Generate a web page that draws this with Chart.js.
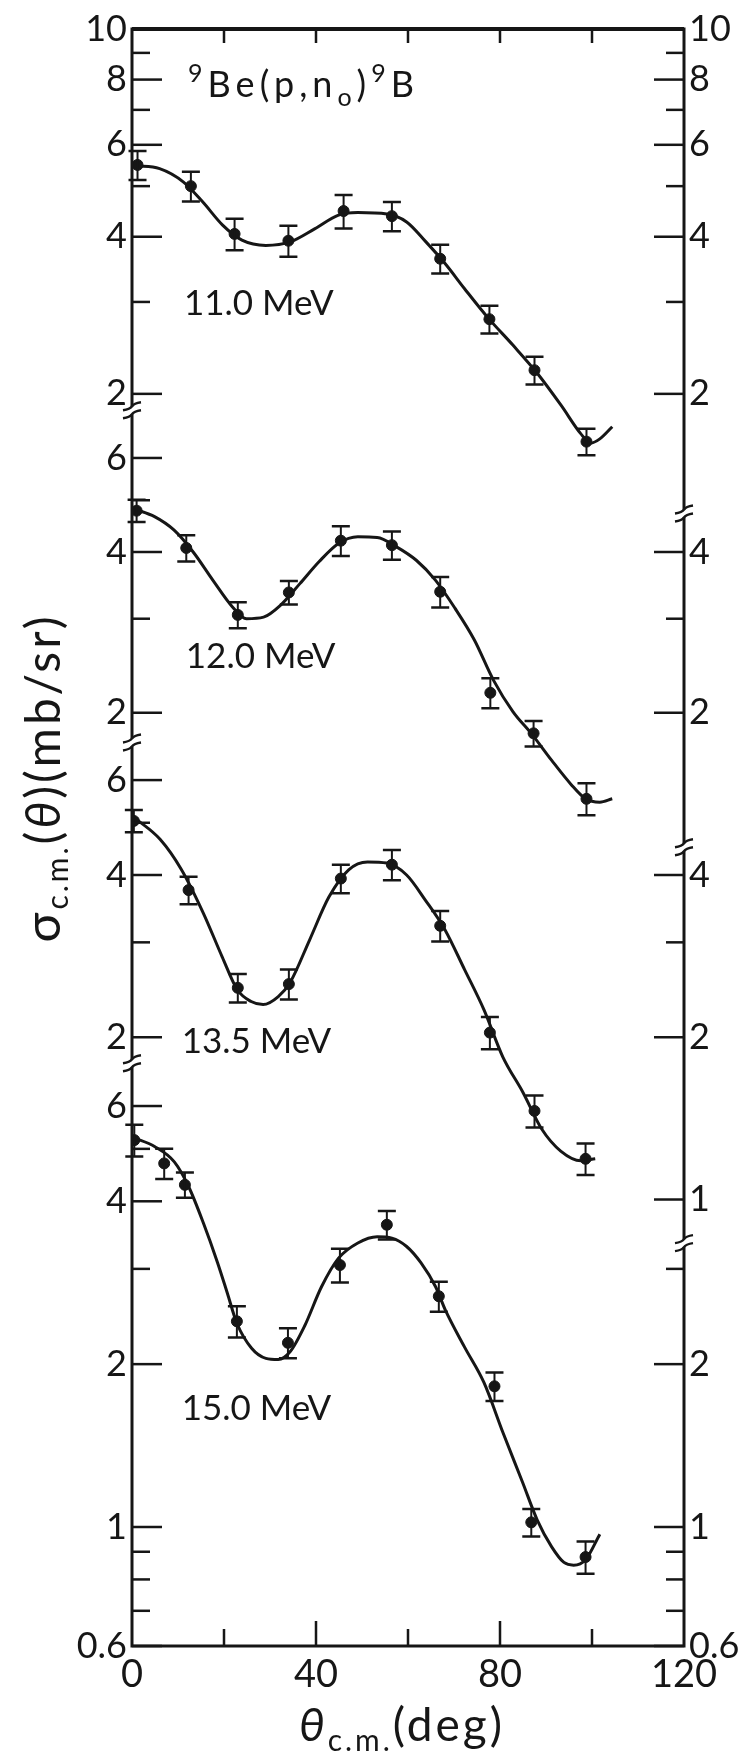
<!DOCTYPE html>
<html>
<head>
<meta charset="utf-8">
<script src="https://cdn.jsdelivr.net/npm/chart.js@4.4.1/dist/chart.umd.min.js"></script>
<style>
  html, body { margin: 0; padding: 0; background: #fff; }
  canvas { display: block; }
</style>
</head>
<body>
<canvas id="xsec" width="754" height="1756"></canvas>
<script>
// 9Be(p,n0)9B angular distributions, one log panel per proton energy

const energies = ['11.0 MeV', '12.0 MeV', '13.5 MeV', '15.0 MeV'];

// measured points: c.m. angle (deg), sigma (mb/sr), error (mb/sr)
const angle11 = [1.2, 12.8, 22.3, 34.0, 46.0, 56.5, 67.0, 77.7, 87.5, 98.8];
const sigma11 = [5.49, 5.00, 4.05, 3.93, 4.48, 4.38, 3.63, 2.78, 2.22, 1.62];
const err11   = [0.35, 0.33, 0.28, 0.27, 0.33, 0.28, 0.23, 0.17, 0.135, 0.095];

const angle12 = [1.0, 11.8, 23.0, 34.1, 45.4, 56.5, 67.0, 77.9, 87.3, 98.8];
const sigma12 = [4.78, 4.07, 3.05, 3.36, 4.20, 4.12, 3.37, 2.18, 1.83, 1.38];
const err12   = [0.23, 0.23, 0.17, 0.17, 0.27, 0.25, 0.22, 0.14, 0.10, 0.095];

const angle135 = [0.4, 12.3, 23.0, 34.1, 45.4, 56.5, 67.0, 77.8, 87.5, 98.6];
const sigma135 = [5.04, 3.75, 2.47, 2.51, 3.94, 4.18, 3.22, 2.04, 1.46, 1.19];
const err135   = [0.24, 0.22, 0.15, 0.16, 0.24, 0.27, 0.21, 0.14, 0.10, 0.08];

const angle15 = [0.5, 7.0, 11.5, 22.8, 33.9, 45.2, 55.4, 66.7, 78.8, 86.8, 98.6];
const sigma15 = [5.19, 4.70, 4.29, 2.40, 2.19, 3.05, 3.62, 2.67, 1.82, 1.02, 0.88];
const err15   = [0.35, 0.30, 0.23, 0.16, 0.14, 0.22, 0.22, 0.17, 0.11, 0.06, 0.06];

// fitted curves
const fitAngle11 = [0.7, 6.0, 11.2, 15.4, 19.7, 23.9, 29.1, 34.4, 39.7, 44.9, 49.1, 55.4, 59.7, 63.9, 68.1, 72.3, 77.5, 82.8, 88.1, 93.3, 97.5, 99.7, 101.7, 104.4];
const fitSigma11 = [5.47, 5.40, 5.09, 4.66, 4.21, 3.94, 3.85, 3.91, 4.14, 4.40, 4.45, 4.42, 4.27, 3.91, 3.55, 3.18, 2.79, 2.48, 2.19, 1.90, 1.68, 1.61, 1.64, 1.73];

const fitAngle12 = [0.7, 4.9, 9.1, 13.3, 17.6, 21.8, 24.9, 28.6, 32.3, 36.5, 40.7, 44.9, 49.1, 53.3, 57.5, 61.8, 66.0, 70.2, 74.4, 78.6, 82.8, 87.0, 91.2, 95.4, 98.6, 101.7, 104.4];
const fitSigma12 = [4.81, 4.66, 4.40, 4.00, 3.54, 3.16, 3.00, 3.02, 3.18, 3.49, 3.84, 4.15, 4.27, 4.26, 4.09, 3.86, 3.54, 3.14, 2.74, 2.30, 2.01, 1.82, 1.63, 1.47, 1.38, 1.36, 1.38];

const fitAngle135 = [0.65, 6.1, 10.7, 15.5, 19.6, 22.9, 25.9, 28.5, 31.8, 34.4, 38.6, 42.8, 47.1, 51.2, 55.4, 59.7, 63.8, 68.0, 72.3, 76.5, 80.6, 85.0, 89.1, 93.2, 97.6, 100.7];
const fitSigma135 = [5.10, 4.66, 4.10, 3.40, 2.82, 2.45, 2.33, 2.30, 2.38, 2.53, 3.03, 3.64, 4.09, 4.23, 4.21, 4.00, 3.59, 3.17, 2.67, 2.25, 1.84, 1.58, 1.35, 1.23, 1.18, 1.19];

const fitAngle15 = [0.4, 4.9, 9.2, 12.3, 15.5, 18.6, 20.7, 22.8, 26.0, 29.1, 31.8, 34.4, 37.5, 41.2, 44.9, 49.1, 53.3, 56.5, 59.7, 62.8, 66.0, 68.1, 72.3, 76.5, 80.7, 84.9, 88.1, 91.2, 93.9, 96.0, 98.6, 101.7];
const fitSigma15 = [5.24, 5.05, 4.73, 4.26, 3.65, 3.08, 2.71, 2.38, 2.14, 2.05, 2.04, 2.11, 2.35, 2.78, 3.14, 3.35, 3.44, 3.42, 3.30, 3.08, 2.78, 2.52, 2.15, 1.85, 1.49, 1.21, 1.03, 0.92, 0.86, 0.85, 0.87, 0.97];

// axis ticks per panel (left side / right side) and which of them carry a number
const xTicks = [20, 40, 60, 80, 100];
const xLabels = [0, 40, 80, 120];
const leftTicks = [[10, 9, 8, 7, 6, 5, 4, 3, 2], [6, 5, 4, 3, 2], [6, 5, 4, 3, 2], [6, 5, 4, 3, 2, 1, 0.9, 0.8, 0.7, 0.6]];
const leftLabels = [[10, 8, 6, 4, 2], [6, 4, 2], [6, 4, 2], [6, 4, 2, 1, 0.6]];
const rightTicks = [[10, 9, 8, 7, 6, 5, 4, 3, 2], [4, 3, 2], [4, 3, 2, 1], [3, 2, 1, 0.9, 0.8, 0.7, 0.6]];
const rightLabels = [[10, 8, 6, 4, 2], [4, 2], [4, 2, 1], [2, 1, 0.6]];
// axis breaks, given as the lowest value shown on the panel above
const leftBreaks = [1.86, 1.76, 1.79];
const rightBreaks = [1.18, 1.12, 0.83];

const INK = '#161616';
const FONT = 'Lato, "DejaVu Sans", sans-serif';
const area = { left: 132, right: 684, top: 29, bottom: 1646 };

// every panel has its own log axis over the full plot height,
// pinned by one value, the pixel row it sits on, and pixels per decade
const panelIds = ['p11', 'p12', 'p135', 'p15'];
const panelScale = [
  { value: 10, y: 29, decade: 522 },
  { value: 4, y: 552, decade: 534 },
  { value: 4, y: 875, decade: 539 },
  { value: 1, y: 1527, decade: 541 }
];

function logRange(p) {
  const max = p.value * Math.pow(10, (p.y - area.top) / p.decade);
  const min = max / Math.pow(10, (area.bottom - area.top) / p.decade);
  return { min: min, max: max };
}

function pts(xs, ys) {
  return xs.map((x, i) => ({ x: x, y: ys[i] }));
}

const measured = [[angle11, sigma11, err11], [angle12, sigma12, err12], [angle135, sigma135, err135], [angle15, sigma15, err15]];
const fits = [[fitAngle11, fitSigma11], [fitAngle12, fitSigma12], [fitAngle135, fitSigma135], [fitAngle15, fitSigma15]];

const datasets = [];
panelIds.forEach((id, i) => {
  datasets.push({
    label: energies[i] + ' fit',
    data: pts(fits[i][0], fits[i][1]),
    yAxisID: id,
    showLine: true,
    borderColor: INK,
    borderWidth: 3,
    pointRadius: 0,
    cubicInterpolationMode: 'monotone',
    order: 2
  });
  datasets.push({
    label: energies[i],
    data: pts(measured[i][0], measured[i][1]),
    err: measured[i][2],
    yAxisID: id,
    showLine: false,
    pointRadius: 5.5,
    pointBackgroundColor: INK,
    pointBorderColor: INK,
    order: 1
  });
});

const scales = { x: { type: 'linear', min: 0, max: 120, display: false } };
panelIds.forEach((id, i) => {
  const r = logRange(panelScale[i]);
  scales[id] = { type: 'logarithmic', min: r.min, max: r.max, bounds: 'data', display: false };
});

// vertical error bars with caps
const errorBars = {
  id: 'errorBars',
  afterDatasetsDraw(chart) {
    const ctx = chart.ctx;
    ctx.save();
    ctx.strokeStyle = INK;
    chart.data.datasets.forEach((ds, di) => {
      if (!ds.err) return;
      const meta = chart.getDatasetMeta(di);
      const ys = chart.scales[ds.yAxisID];
      meta.data.forEach((el, j) => {
        const v = ds.data[j].y, e = ds.err[j];
        const top = ys.getPixelForValue(v + e);
        const bot = ys.getPixelForValue(v - e);
        ctx.lineWidth = 2;
        ctx.beginPath();
        ctx.moveTo(el.x, top);
        ctx.lineTo(el.x, bot);
        ctx.stroke();
        ctx.lineWidth = 2.5;
        ctx.beginPath();
        ctx.moveTo(el.x - 9, top);
        ctx.lineTo(el.x + 9, top);
        ctx.moveTo(el.x - 9, bot);
        ctx.lineTo(el.x + 9, bot);
        ctx.stroke();
      });
    });
    ctx.restore();
  }
};

function drawPieces(ctx, x, y, pieces) {
  pieces.forEach(p => {
    ctx.font = p[1];
    ctx.fillText(p[0], x, y + p[2]);
    x += ctx.measureText(p[0]).width;
  });
}

function piecesWidth(ctx, pieces) {
  let w = 0;
  pieces.forEach(p => { ctx.font = p[1]; w += ctx.measureText(p[0]).width; });
  return w;
}

function drawBreak(ctx, x, y) {
  ctx.save();
  ctx.fillStyle = '#fff';
  ctx.fillRect(x - 4, y - 4, 8, 8);
  ctx.lineWidth = 2.5;
  ctx.beginPath();
  [-4, 4].forEach(d => {
    ctx.moveTo(x - 9, y + d + 4);
    ctx.quadraticCurveTo(x - 2, y + d + 3, x, y + d);
    ctx.quadraticCurveTo(x + 2, y + d - 3, x + 9, y + d - 4);
  });
  ctx.stroke();
  ctx.restore();
}

const frame = {
  id: 'frame',
  afterDraw(chart) {
    const ctx = chart.ctx;
    const a = chart.chartArea;
    const xs = chart.scales.x;
    const panels = panelIds.map(id => chart.scales[id]);
    ctx.save();
    ctx.strokeStyle = INK;
    ctx.fillStyle = INK;
    ctx.lineCap = 'butt';

    ctx.lineWidth = 3;
    ctx.strokeRect(a.left, a.top, a.right - a.left, a.bottom - a.top);
    ctx.lineWidth = 4;
    ctx.beginPath();
    ctx.moveTo(a.left, a.top);
    ctx.lineTo(a.right, a.top);
    ctx.stroke();

    // angle ticks on top and bottom
    ctx.lineWidth = 2.5;
    ctx.beginPath();
    xTicks.forEach(v => {
      const px = xs.getPixelForValue(v);
      const len = (v % 40 === 0) ? 25 : 17;
      ctx.moveTo(px, a.bottom);
      ctx.lineTo(px, a.bottom - len);
      ctx.moveTo(px, a.top);
      ctx.lineTo(px, a.top + 14);
    });
    ctx.stroke();

    ctx.font = '38px ' + FONT;
    ctx.textAlign = 'center';
    ctx.textBaseline = 'middle';
    xLabels.forEach(v => {
      ctx.fillText(String(v), xs.getPixelForValue(v), a.bottom + 29);
    });

    // segmented sigma axes on both sides
    const sides = [
      { x: a.left, dir: 1, ticks: leftTicks, labels: leftLabels, breaks: leftBreaks },
      { x: a.right, dir: -1, ticks: rightTicks, labels: rightLabels, breaks: rightBreaks }
    ];
    sides.forEach(side => {
      const cuts = side.breaks.map((v, i) => panels[i].getPixelForValue(v));
      panels.forEach((sc, i) => {
        const segTop = i === 0 ? a.top - 4 : cuts[i - 1] + 6;
        const segBot = i === panels.length - 1 ? a.bottom + 4 : cuts[i] - 6;
        side.ticks[i].forEach(v => {
          const py = Math.min(Math.max(sc.getPixelForValue(v), a.top), a.bottom);
          if (py < segTop || py > segBot) return;
          const major = side.labels[i].indexOf(v) >= 0;
          const len = major ? 30 : 18;
          ctx.lineWidth = 2.5;
          ctx.beginPath();
          ctx.moveTo(side.x, py);
          ctx.lineTo(side.x + side.dir * len, py);
          ctx.stroke();
          if (major) {
            ctx.font = '36px ' + FONT;
            ctx.textBaseline = 'middle';
            ctx.textAlign = side.dir > 0 ? 'right' : 'left';
            ctx.fillText(String(v), side.x - side.dir * 5, py);
          }
        });
      });
      cuts.forEach(py => drawBreak(ctx, side.x, py));
    });

    // reaction and beam energy annotations, placed in data coordinates
    const p1 = panels[0];
    ctx.textAlign = 'left';
    ctx.textBaseline = 'alphabetic';
    ctx.letterSpacing = '5px';
    drawPieces(ctx, xs.getPixelForValue(12.2), p1.getPixelForValue(7.4), [
      ['9', '25px ' + FONT, -15],
      ['Be(p,n', '36px ' + FONT, 0],
      ['o', '25px ' + FONT, 9],
      [')', '36px ' + FONT, 0],
      ['9', '25px ' + FONT, -15],
      ['B', '36px ' + FONT, 0]
    ]);
    ctx.letterSpacing = '0px';
    const labelAt = [[11.3, 2.83], [11.7, 2.43], [10.8, 1.87], [10.8, 1.58]];
    ctx.font = '35px ' + FONT;
    energies.forEach((t, i) => {
      ctx.fillText(t, xs.getPixelForValue(labelAt[i][0]), panels[i].getPixelForValue(labelAt[i][1]));
    });

    // axis titles
    ctx.letterSpacing = '3px';
    const xTitle = [
      ['θ', 'italic 46px ' + FONT, 0],
      ['c.m.', '30px ' + FONT, 10],
      ['(deg)', '46px ' + FONT, 0]
    ];
    drawPieces(ctx, 402 - piecesWidth(ctx, xTitle) / 2, 1741, xTitle);

    const yTitle = [
      ['σ', '50px ' + FONT, 0],
      ['c.m.', '30px ' + FONT, 8],
      ['(', '48px ' + FONT, 0],
      ['θ', 'italic 48px ' + FONT, 0],
      [')(mb/sr)', '48px ' + FONT, 0]
    ];
    ctx.translate(60, 778);
    ctx.rotate(-Math.PI / 2);
    drawPieces(ctx, -piecesWidth(ctx, yTitle) / 2, 0, yTitle);
    ctx.restore();
  }
};

new Chart(document.getElementById('xsec'), {
  type: 'scatter',
  data: { datasets: datasets },
  options: {
    responsive: false,
    animation: false,
    events: [],
    layout: { padding: { left: area.left, right: 754 - area.right, top: area.top, bottom: 1756 - area.bottom } },
    plugins: { legend: { display: false }, tooltip: { enabled: false } },
    scales: scales
  },
  plugins: [errorBars, frame]
});
</script>
</body>
</html>
